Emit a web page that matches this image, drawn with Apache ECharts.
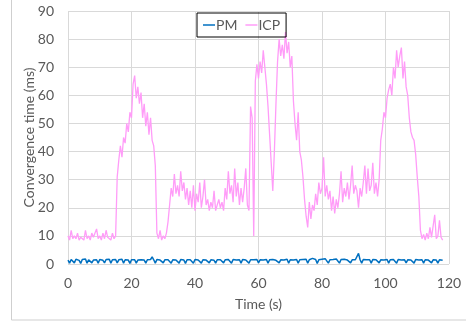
<!DOCTYPE html>
<html>
<head>
<meta charset="utf-8">
<script src="https://cdn.jsdelivr.net/npm/echarts@6/dist/echarts.min.js"></script>
<style>
html, body { margin: 0; padding: 0; background: #fff; }
#main { width: 466px; height: 323px; }
</style>
</head>
<body>
<div id="main"></div>
<script>
// sample step of both series, seconds
var step = 0.5;
var xTicks = [0, 20, 40, 60, 80, 100, 120];

// ICP convergence time (ms), one value every 0.5 s from t = 0
var icp = [
    10, 8.5, 12, 9, 10, 9, 11, 8.5, 9.5, 10,
    8.5, 12, 9, 10, 8.5, 11, 9.5, 9, 12.5, 9,
    10, 8.5, 11, 9, 12, 9.5, 10, 8.5, 11, 9,
    10, 31, 37, 42, 38, 45, 43, 50, 47, 54,
    52, 64, 67, 59, 63, 57, 61, 52, 57, 49,
    54, 46, 52, 44, 42, 35, 11, 9, 12, 8.5,
    10, 9, 11, 15, 21, 27, 24, 32, 25, 28,
    24, 33, 26, 29, 23, 27, 21, 26, 20, 28,
    19, 25, 22, 29, 20, 24, 30, 21, 23, 19,
    22, 20, 26, 19, 21, 23, 20, 22, 19, 27,
    23, 33, 25, 28, 22, 34, 24, 29, 21, 27,
    22, 27, 34, 21, 19, 56, 52, 10, 65, 71,
    66, 72, 68, 76, 70, 64, 56, 46, 36, 26,
    40, 57, 72, 80, 74, 78, 73, 82.5, 75, 79,
    70, 74, 58, 50, 44, 54, 40, 37, 31, 23,
    17, 13, 22, 16, 21, 19, 25, 21, 29, 25,
    27, 38, 24, 28, 23, 26, 19, 24, 18, 23,
    20, 25, 33, 22, 27, 24, 29, 23, 28, 35,
    25, 28, 26, 20, 27, 24, 29, 35, 25, 34,
    26, 28, 36, 25, 29, 24, 30, 44, 48, 54,
    52, 59, 62, 64, 60, 70, 66, 76, 70, 74,
    77, 66, 72, 63, 60, 52, 47, 45, 44, 39,
    31, 24, 12, 9, 10.5, 8.5, 11, 9, 13, 9.5,
    10, 17.5, 9, 10, 15.5, 9.5, 8.5
];

// PM convergence time (ms), same sampling
var pm = [
    1.4, 0.3, 1.6, 1.5, 0.4, 1.7, 1.5, 1.3, 0.2, 1.6,
    1.5, 1.8, 0.3, 1.5, 1.6, 0.4, 1.4, 1.7, 1.5, 0.3,
    1.6, 1.5, 1.3, 0.4, 1.6, 1.5, 1.7, 0.3, 1.5, 1.4,
    1.6, 0.4, 1.5, 1.3, 1.7, 0.3, 1.5, 1.6, 1.4, 0.2,
    1.5, 1.6, 1.5, 0.3, 1.4, 1.7, 1.5, 1.6, 1.4, 0.3,
    1.5, 1.4, 1.6, 2.5, 1.5, 0.3, 1.6, 1.5, 1.4, 1.7,
    0.4, 1.5, 1.6, 1.5, 1.3, 0.3, 1.5, 1.6, 1.4, 1.5,
    0.3, 1.6, 1.5, 1.4, 0.2, 1.5, 1.6, 1.5, 1.3, 0.3,
    1.6, 1.5, 1.4, 1.7, 0.3, 1.5, 1.6, 1.4, 1.5, 0.4,
    1.5, 1.6, 1.3, 0.3, 1.5, 1.7, 1.5, 1.6, 0.4, 1.5,
    1.4, 1.6, 1.5, 0.3, 1.6, 1.5, 1.4, 1.7, 1.5, 0.3,
    1.6, 1.5, 1.4, 1.6, 0.3, 1.5, 1.6, 1.5, 1.3, 1.6,
    0.4, 1.5, 1.6, 1.4, 1.5, 1.6, 0.3, 1.5, 1.4, 1.6,
    1.5, 1.3, 1.6, 0.4, 1.5, 1.6, 1.4, 1.5, 1.7, 0.3,
    1.5, 1.6, 1.4, 1.5, 1.6, 0.3, 1.5, 1.4, 1.6, 1.5,
    1.7, 0.3, 1.5, 1.6, 2.0, 1.4, 1.6, 0.2, 1.5, 1.6,
    1.7, 1.5, 1.9, 1.6, 0.3, 1.5, 1.7, 1.6, 1.4, 1.8,
    1.5, 0.3, 1.6, 1.5, 1.7, 1.5, 1.4, 1.6, 0.4, 1.5,
    1.6, 1.5, 1.4, 3.8, 1.5, 0.3, 1.6, 1.4, 1.5, 1.6,
    1.5, 0.3, 1.6, 1.4, 1.5, 1.6, 0.4, 1.5, 1.6, 1.4,
    1.5, 1.6, 0.3, 1.5, 1.4, 1.6, 1.5, 0.3, 1.6, 1.5,
    1.4, 1.6, 1.5, 0.4, 1.5, 1.6, 1.4, 1.5, 0.3, 1.6,
    1.5, 1.4, 1.6, 1.5, 0.3, 1.5, 1.6, 1.4, 1.5, 0.4,
    1.5, 1.6, 1.4, 0.3, 1.5, 1.6, 1.3
];

function pairs(arr) {
    var out = [];
    for (var i = 0; i < arr.length; i++) {
        out.push([i * step, arr[i]]);
    }
    return out;
}

var myChart = echarts.init(document.getElementById('main'));
var font = 'Lato, "Open Sans", sans-serif';
var grey = '#595959';
var lineIcon = 'path://M0,0 L12,0 L12,1.5 L0,1.5 Z';

var option = {
    animation: false,
    textStyle: { fontFamily: font },
    graphic: [{
        type: 'rect',
        shape: { x: 11.5, y: -2, width: 470, height: 322 },
        style: { fill: 'none', stroke: '#cfcfcf', lineWidth: 1 },
        silent: true
    }],
    legend: {
        left: 197,
        top: 13,
        padding: [5, 6, 5, 6],
        borderColor: '#000',
        borderWidth: 1,
        itemWidth: 12,
        itemHeight: 1.5,
        itemGap: 8,
        textStyle: { color: grey, fontSize: 14, fontFamily: font, padding: [0, 0, 0, -4] },
        data: [{ name: 'PM', icon: lineIcon }, { name: 'ICP', icon: lineIcon }]
    },
    grid: { left: 68, right: 17, top: 11, bottom: 59 },
    xAxis: {
        type: 'value',
        min: xTicks[0],
        max: xTicks[xTicks.length - 1],
        interval: 20,
        name: 'Time (s)',
        nameLocation: 'middle',
        nameGap: 33,
        nameMoveOverlap: false,
        nameTextStyle: { color: grey, fontSize: 14, fontFamily: font },
        axisLine: { show: false },
        axisTick: { show: false },
        axisLabel: { color: grey, fontSize: 14, margin: 12, fontFamily: font },
        splitLine: { show: true, lineStyle: { color: '#d9d9d9', width: 1 } }
    },
    yAxis: {
        type: 'value',
        min: 0,
        max: 90,
        interval: 10,
        name: 'Convergence time (ms)',
        nameLocation: 'middle',
        nameGap: 32,
        nameMoveOverlap: false,
        nameTextStyle: { color: grey, fontSize: 14, fontFamily: font },
        axisLine: { show: false },
        axisTick: { show: false },
        axisLabel: { color: grey, fontSize: 14, margin: 14, fontFamily: font },
        splitLine: { show: true, lineStyle: { color: '#d9d9d9', width: 1 } }
    },
    series: [{
        name: 'PM',
        type: 'line',
        symbol: 'none',
        data: pairs(pm),
        itemStyle: { color: '#0070c0' },
        lineStyle: { color: '#0070c0', width: 1.5 },
        z: 3
    }, {
        name: 'ICP',
        type: 'line',
        symbol: 'none',
        data: pairs(icp),
        itemStyle: { color: '#ff9cf8' },
        lineStyle: { color: '#ff9cf8', width: 1.3 },
        z: 2
    }]
};

myChart.setOption(option);
</script>
</body>
</html>
